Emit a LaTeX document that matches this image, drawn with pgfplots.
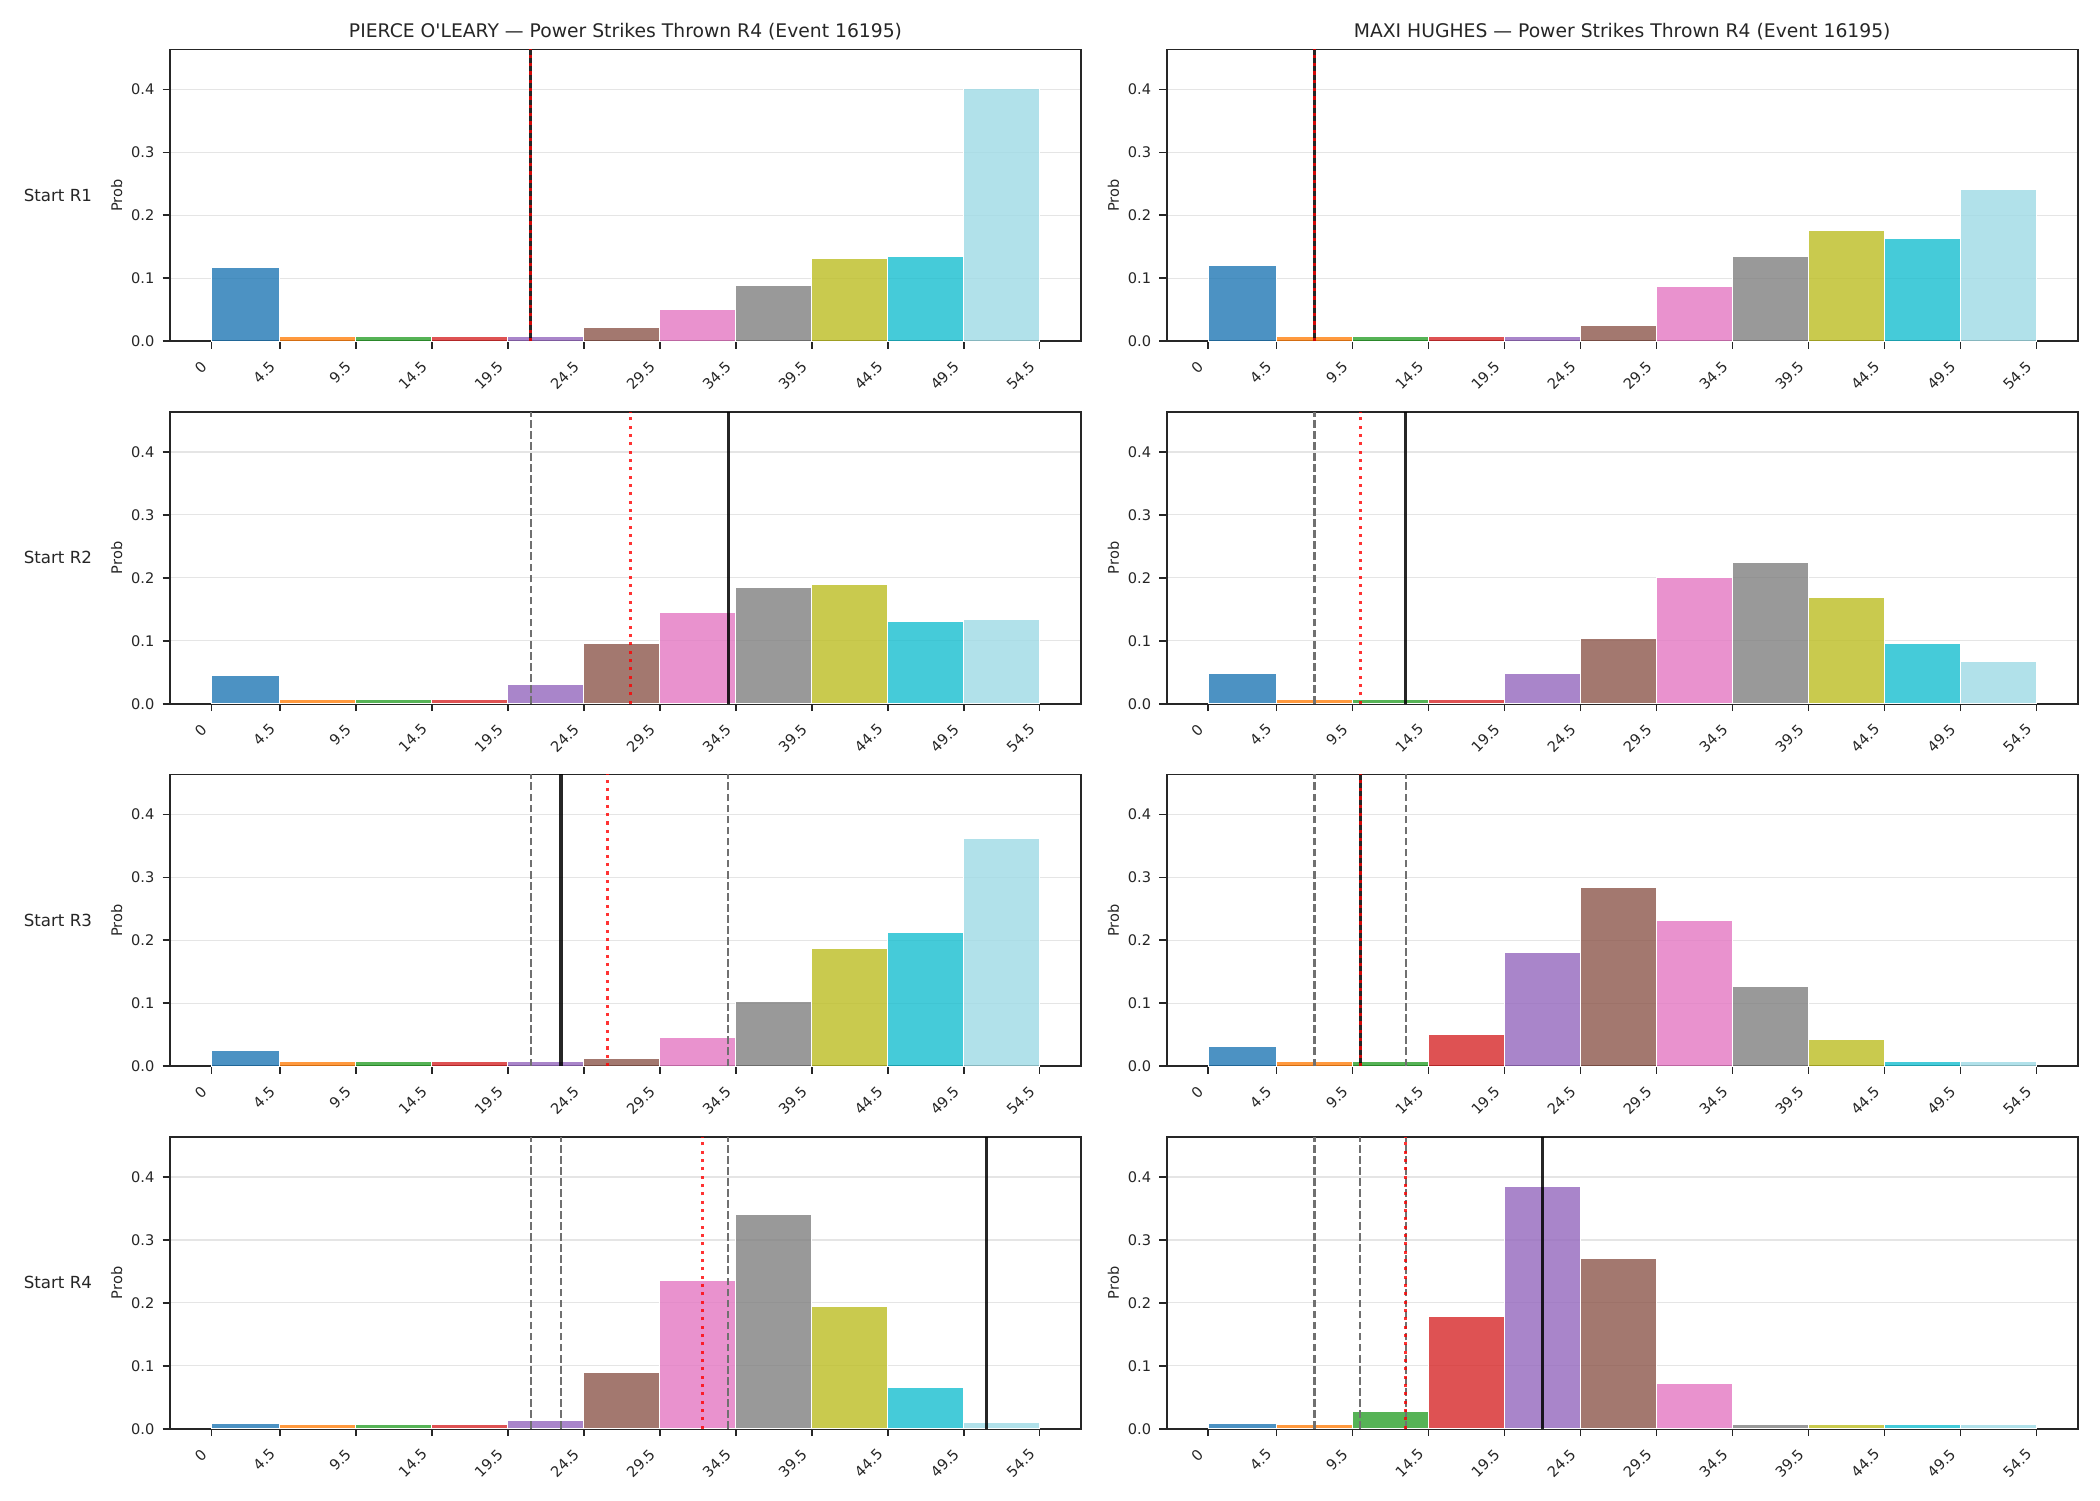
\documentclass[border=0pt]{standalone}
\usepackage{fontspec}
\setmainfont{DejaVu Sans}[Ligatures=TeXOff]
\usepackage{pgfplots}
\pgfplotsset{compat=1.18}

\definecolor{c0}{HTML}{1F77B4}
\definecolor{c1}{HTML}{FF7F0E}
\definecolor{c2}{HTML}{2CA02C}
\definecolor{c3}{HTML}{D62728}
\definecolor{c4}{HTML}{9467BD}
\definecolor{c5}{HTML}{8C564B}
\definecolor{c6}{HTML}{E377C2}
\definecolor{c7}{HTML}{7F7F7F}
\definecolor{c8}{HTML}{BCBD22}
\definecolor{c9}{HTML}{17BECF}
\definecolor{c10}{HTML}{9EDAE5}
\definecolor{spine}{HTML}{262626}
\definecolor{prevgray}{HTML}{707070}

\pgfplotsset{
  hist/.style={
    scale only axis, width=437.3pt, height=140.1pt, anchor=south west,
    xmin=-2.725, xmax=57.225, ymin=0, ymax=0.4636,
    xtick={0,4.5,9.5,14.5,19.5,24.5,29.5,34.5,39.5,44.5,49.5,54.5},
    xticklabels={0,4.5,9.5,14.5,19.5,24.5,29.5,34.5,39.5,44.5,49.5,54.5},
    ytick={0,0.1,0.2,0.3,0.4},
    /pgf/number format/assume math mode=true,
    yticklabel style={/pgf/number format/fixed, /pgf/number format/fixed zerofill, /pgf/number format/precision=1, inner sep=0pt},
    tick label style={font=\fontsize{7}{8}\selectfont, text=spine},
    xticklabel style={inner sep=0pt, xshift=-5.5pt, rotate=45, anchor=north east},
    xticklabel shift=5.4pt, yticklabel shift=3.8pt,
    tick align=outside, xtick pos=left, ytick pos=left,
    major tick length=3.5pt,
    every tick/.style={spine, line width=0.8pt},
    axis line style={spine, line width=0.8pt},
    ymajorgrids, grid style={black!10, line width=0.6pt},
    clip=true,
  },
  prev/.style={draw=prevgray, line width=1pt, dash pattern=on 3.7pt off 1.6pt},
  act/.style={draw=black, draw opacity=0.85, line width=1.5pt},
  med/.style={draw=red, draw opacity=0.8, line width=1.5pt, dash pattern=on 1.5pt off 2.5pt},
}

\newcommand{\bars}[1]{%
  \foreach \lo/\hi/\h [count=\i from 0] in {#1} {%
    \edef\tmp{\noexpand\addplot[draw=white, line width=0.5pt, fill=c\i, fill opacity=0.8] coordinates {(\lo,\h) (\hi,\h)} \noexpand\closedcycle;}%
    \tmp
  }%
}
\newcommand{\vl}[2]{\addplot[#1] coordinates {(#2,0) (#2,0.4636)};}

\begin{document}
\begin{tikzpicture}
\path[use as bounding box] (0pt,0pt) rectangle (1008pt,720pt);

% titles
\node[font=\fontsize{9}{11}\selectfont, text=spine] at (300.25pt,704.8pt) {PIERCE O'LEARY — Power Strikes Thrown R4 (Event 16195)};
\node[font=\fontsize{9}{11}\selectfont, text=spine] at (778.65pt,704.8pt) {MAXI HUGHES — Power Strikes Thrown R4 (Event 16195)};

% row labels and y labels
\foreach \r/\yb in {1/626.2,2/452.2,3/278.2,4/104.2} {
  \node[anchor=west, inner sep=0pt, font=\fontsize{8}{10}\selectfont, text=spine] at (11.2pt,\yb pt) {Start R\r};
  \node[rotate=90, font=\fontsize{7}{8}\selectfont, text=spine] at (56pt,\yb pt) {Prob};
  \node[rotate=90, font=\fontsize{7}{8}\selectfont, text=spine] at (534.4pt,\yb pt) {Prob};
}

% Row 1
\begin{axis}[hist, at={(81.6pt,556.2pt)}]
\bars{0/4.5/0.117, 4.5/9.5/0.0075, 9.5/14.5/0.0075, 14.5/19.5/0.0075, 19.5/24.5/0.0075, 24.5/29.5/0.022, 29.5/34.5/0.050, 34.5/39.5/0.089, 39.5/44.5/0.131, 44.5/49.5/0.135, 49.5/54.5/0.401}
\vl{act}{21}
\vl{med}{21}
\end{axis}
\begin{axis}[hist, at={(560pt,556.2pt)}]
\bars{0/4.5/0.121, 4.5/9.5/0.0075, 9.5/14.5/0.0075, 14.5/19.5/0.0075, 19.5/24.5/0.0075, 24.5/29.5/0.025, 29.5/34.5/0.087, 34.5/39.5/0.134, 39.5/44.5/0.176, 44.5/49.5/0.164, 49.5/54.5/0.241}
\vl{act}{7}
\vl{med}{7}
\end{axis}

% Row 2
\begin{axis}[hist, at={(81.6pt,382.2pt)}]
\bars{0/4.5/0.045, 4.5/9.5/0.0075, 9.5/14.5/0.0075, 14.5/19.5/0.0075, 19.5/24.5/0.030, 24.5/29.5/0.096, 29.5/34.5/0.145, 34.5/39.5/0.185, 39.5/44.5/0.190, 44.5/49.5/0.131, 49.5/54.5/0.134}
\vl{prev}{21}
\vl{act}{34}
\vl{med}{27.6}
\end{axis}
\begin{axis}[hist, at={(560pt,382.2pt)}]
\bars{0/4.5/0.048, 4.5/9.5/0.0075, 9.5/14.5/0.0075, 14.5/19.5/0.0075, 19.5/24.5/0.048, 24.5/29.5/0.104, 29.5/34.5/0.201, 34.5/39.5/0.225, 39.5/44.5/0.169, 44.5/49.5/0.096, 49.5/54.5/0.067}
\vl{prev}{7}
\vl{act}{13}
\vl{med}{10}
\end{axis}

% Row 3
\begin{axis}[hist, at={(81.6pt,208.2pt)}]
\bars{0/4.5/0.025, 4.5/9.5/0.0075, 9.5/14.5/0.0075, 14.5/19.5/0.0075, 19.5/24.5/0.0075, 24.5/29.5/0.013, 29.5/34.5/0.046, 34.5/39.5/0.103, 39.5/44.5/0.187, 44.5/49.5/0.213, 49.5/54.5/0.362}
\vl{prev}{21}
\vl{prev}{34}
\vl{act}{23}
\vl{med}{26.05}
\end{axis}
\begin{axis}[hist, at={(560pt,208.2pt)}]
\bars{0/4.5/0.031, 4.5/9.5/0.0075, 9.5/14.5/0.0075, 14.5/19.5/0.051, 19.5/24.5/0.181, 24.5/29.5/0.284, 29.5/34.5/0.232, 34.5/39.5/0.127, 39.5/44.5/0.043, 44.5/49.5/0.0075, 49.5/54.5/0.0075}
\vl{prev}{7}
\vl{prev}{13}
\vl{act}{10}
\vl{med}{10}
\end{axis}

% Row 4
\begin{axis}[hist, at={(81.6pt,34.2pt)}]
\bars{0/4.5/0.008, 4.5/9.5/0.0075, 9.5/14.5/0.0075, 14.5/19.5/0.0075, 19.5/24.5/0.013, 24.5/29.5/0.090, 29.5/34.5/0.236, 34.5/39.5/0.340, 39.5/44.5/0.195, 44.5/49.5/0.066, 49.5/54.5/0.010}
\vl{prev}{21}
\vl{prev}{34}
\vl{prev}{23}
\vl{act}{51}
\vl{med}{32.3}
\end{axis}
\begin{axis}[hist, at={(560pt,34.2pt)}]
\bars{0/4.5/0.008, 4.5/9.5/0.0075, 9.5/14.5/0.027, 14.5/19.5/0.179, 19.5/24.5/0.385, 24.5/29.5/0.270, 29.5/34.5/0.072, 34.5/39.5/0.0075, 39.5/44.5/0.0075, 44.5/49.5/0.0075, 49.5/54.5/0.0075}
\vl{prev}{7}
\vl{prev}{13}
\vl{prev}{10}
\vl{act}{22}
\vl{med}{13}
\end{axis}
\end{tikzpicture}
\end{document}
